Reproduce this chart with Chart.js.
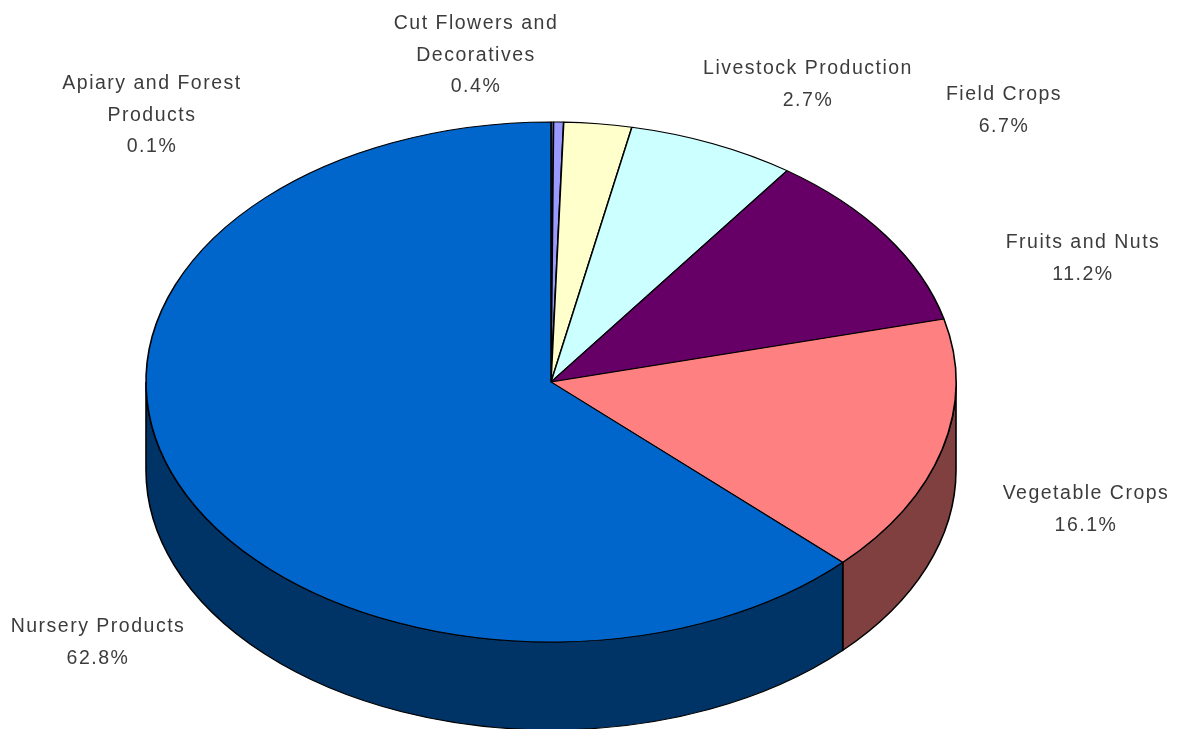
<!DOCTYPE html>
<html>
<head>
<meta charset="utf-8">
<script src="https://cdn.jsdelivr.net/npm/chart.js@4/dist/chart.umd.min.js"></script>
<style>
  html, body { margin: 0; padding: 0; background: #fff; overflow: hidden; }
  #wrap { position: relative; width: 1178px; height: 729px; }
</style>
</head>
<body>
<div id="wrap"><canvas id="pieChart"></canvas></div>
<script>
const categories = ["Apiary and Forest Products", "Cut Flowers and Decoratives", "Livestock Production", "Field Crops", "Fruits and Nuts", "Vegetable Crops", "Nursery Products"];
const shares = [0.1, 0.4, 2.7, 6.7, 11.2, 16.1, 62.8];
const labelLines = [["Apiary and Forest", "Products"], ["Cut Flowers and", "Decoratives"], ["Livestock Production"], ["Field Crops"], ["Fruits and Nuts"], ["Vegetable Crops"], ["Nursery Products"]];
const topColors = ["#9999ff", "#9999ff", "#ffffcc", "#ccffff", "#660066", "#ff8080", "#0066cc"];
const sideColors = ["#4c4c80", "#4c4c80", "#808066", "#668080", "#330033", "#804040", "#003366"];

// where each label's first line sits (centre x, baseline y)
const labelAnchors = [[152, 89], [476, 29], [808, 74], [1004, 100], [1083, 248], [1086, 499], [98, 632]];
const lineGap = 31.5;
const tilt = 260 / 405;
const depth = 88;

// squash the round pie into an ellipse and put the rim under it
const tiltPlugin = {
  id: "tilt",
  beforeDatasetDraw(chart, args) {
    const ctx = chart.ctx;
    const arcs = args.meta.data;
    const cy = arcs[0].y;
    ctx.save();
    ctx.translate(0, cy);
    ctx.scale(1, tilt);
    ctx.translate(0, -cy);
    arcs.forEach((arc, i) => {
      const a0 = Math.max(arc.startAngle, 0);
      const a1 = Math.min(arc.endAngle, Math.PI);
      const r = arc.outerRadius;
      if (a1 <= a0) return;
      ctx.beginPath();
      ctx.arc(arc.x, arc.y, r, a0, a1);
      ctx.arc(arc.x, arc.y + depth / tilt, r, a1, a0, true);
      ctx.closePath();
      ctx.fillStyle = sideColors[i];
      ctx.fill();
      ctx.lineWidth = 1.6;
      ctx.strokeStyle = "#000";
      ctx.stroke();
    });
  },
  afterDatasetDraw(chart) {
    chart.ctx.restore();
  },
  afterDraw(chart) {
    const ctx = chart.ctx;
    ctx.save();
    ctx.font = "19.5px 'Liberation Sans', Arial, sans-serif";
    ctx.letterSpacing = "1.5px";
    ctx.fillStyle = "#3c3c3c";
    ctx.textAlign = "center";
    labelLines.forEach((lines, i) => {
      const [x, y] = labelAnchors[i];
      lines.concat(shares[i].toFixed(1) + "%").forEach((line, n) => {
        ctx.fillText(line, x, y + n * lineGap);
      });
    });
    ctx.restore();
  }
};

new Chart(document.getElementById("pieChart"), {
  type: "pie",
  data: {
    labels: categories,
    datasets: [{
      data: shares,
      backgroundColor: topColors,
      borderColor: "#000",
      borderWidth: 1.6,
      radius: 405,
      clip: false
    }]
  },
  options: {
    responsive: true,
    maintainAspectRatio: false,
    animation: false,
    events: [],
    layout: { padding: { top: 35, right: 76 } },
    plugins: { legend: { display: false }, tooltip: { enabled: false } }
  },
  plugins: [tiltPlugin]
});
</script>
</body>
</html>
